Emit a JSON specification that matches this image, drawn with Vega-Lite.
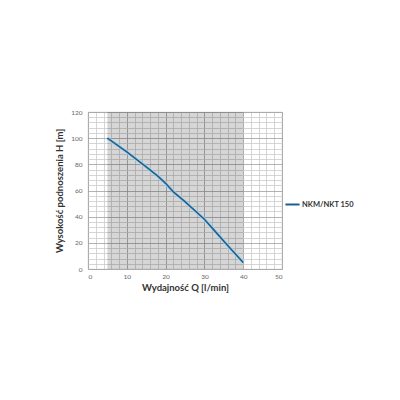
{
  "$schema": "https://vega.github.io/schema/vega-lite/v6.json",
  "autosize": "none",
  "width": 194,
  "height": 157,
  "padding": {"left": 88, "top": 112, "right": 118, "bottom": 131},
  "background": "white",
  "config": {
    "view": {"stroke": "#bbbbbb", "strokeWidth": 0.8},
    "font": "Lato"
  },
  "datasets": {
    "curve": [
      {"Q": 5, "H": 100, "series": "NKM/NKT 150"},
      {"Q": 10, "H": 89.5, "series": "NKM/NKT 150"},
      {"Q": 15, "H": 78, "series": "NKM/NKT 150"},
      {"Q": 18, "H": 71, "series": "NKM/NKT 150"},
      {"Q": 20, "H": 65.5, "series": "NKM/NKT 150"},
      {"Q": 22, "H": 59, "series": "NKM/NKT 150"},
      {"Q": 25, "H": 51.5, "series": "NKM/NKT 150"},
      {"Q": 30, "H": 38, "series": "NKM/NKT 150"},
      {"Q": 33, "H": 28, "series": "NKM/NKT 150"},
      {"Q": 36, "H": 18, "series": "NKM/NKT 150"},
      {"Q": 40, "H": 5, "series": "NKM/NKT 150"}
    ],
    "band": [{"x1": 5, "x2": 40, "y1": 0, "y2": 120}]
  },
  "layer": [
    {
      "data": {"name": "band"},
      "mark": {"type": "rect", "color": "#000000", "opacity": 0.16},
      "encoding": {
        "x": {"field": "x1", "type": "quantitative"},
        "x2": {"field": "x2"},
        "y": {"field": "y1", "type": "quantitative"},
        "y2": {"field": "y2"}
      }
    },
    {
      "data": {"name": "curve"},
      "mark": {"type": "line", "color": "#a9d3ee", "strokeWidth": 3.6, "opacity": 0.8},
      "encoding": {
        "x": {"field": "Q", "type": "quantitative"},
        "y": {"field": "H", "type": "quantitative"}
      }
    },
    {
      "data": {"name": "curve"},
      "mark": {"type": "line", "strokeWidth": 1.6},
      "encoding": {
        "x": {
          "field": "Q",
          "type": "quantitative",
          "scale": {"domain": [0, 50], "nice": false, "zero": true},
          "axis": {
            "title": "Wydajność Q [l/min]",
            "titleFont": "Lato",
            "titleFontSize": 9.5,
            "titleFontWeight": "bold",
            "titleColor": "#333333",
            "titlePadding": 3,
            "values": [0,2,4,6,8,10,12,14,16,18,20,22,24,26,28,30,32,34,36,38,40,42,44,46,48,50],
            "tickCount": 100,
            "format": "d",
            "labelExpr": "datum.value % 10 === 0 ? datum.label : ''",
            "labelOverlap": false,
            "labelFontSize": 6.5,
            "labelColor": "#666666",
            "labelPadding": 4,
            "ticks": false,
            "domain": false,
            "grid": true,
            "gridColor": {"condition": {"test": "datum.value % 10 === 0", "value": "#a0a0a0"}, "value": "#cccccc"},
            "gridWidth": 0.8
          }
        },
        "y": {
          "field": "H",
          "type": "quantitative",
          "scale": {"domain": [0, 120], "nice": false},
          "axis": {
            "title": "Wysokość podnoszenia H [m]",
            "titleFont": "Lato",
            "titleFontSize": 9.5,
            "titleFontWeight": "bold",
            "titleColor": "#333333",
            "titlePadding": 6,
            "values": [0,4,8,12,16,20,24,28,32,36,40,44,48,52,56,60,64,68,72,76,80,84,88,92,96,100,104,108,112,116,120],
            "tickCount": 100,
            "format": "d",
            "labelExpr": "datum.value % 20 === 0 ? datum.label : ''",
            "labelOverlap": false,
            "labelFontSize": 6.5,
            "labelColor": "#666666",
            "labelPadding": 6,
            "ticks": false,
            "domain": false,
            "grid": true,
            "gridColor": {"condition": {"test": "datum.value % 20 === 0", "value": "#a0a0a0"}, "value": "#cccccc"},
            "gridWidth": 0.8
          }
        },
        "color": {
          "field": "series",
          "type": "nominal",
          "scale": {"range": ["#1d5f8e"]},
          "legend": {
            "title": null,
            "orient": "none",
            "legendX": 196,
            "legendY": 84,
            "symbolType": "stroke",
            "symbolSize": 200,
            "symbolStrokeWidth": 2,
            "labelFontSize": 7.5,
            "labelFontWeight": "bold",
            "labelColor": "#333333",
            "labelOffset": 1
          }
        }
      }
    }
  ]
}
